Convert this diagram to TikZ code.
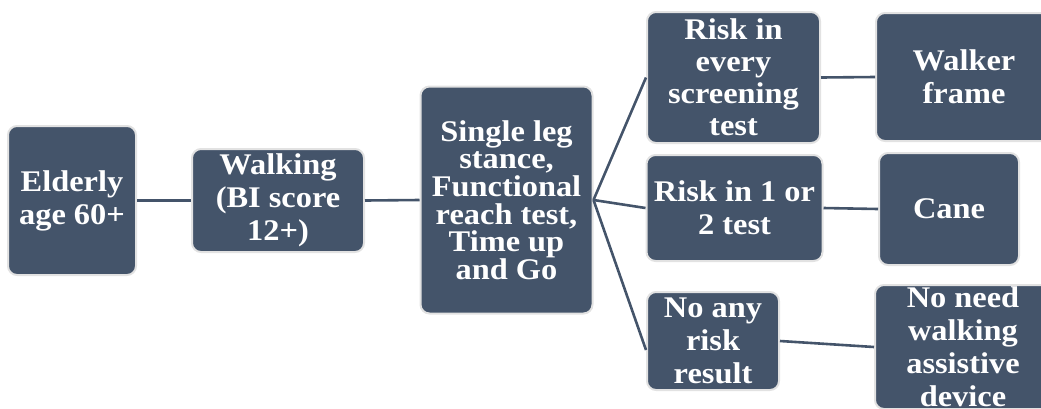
\documentclass[tikz,border=0pt]{standalone}
\usepackage{fontspec}
\setmainfont{Liberation Serif}[FakeStretch=1.08]
\usetikzlibrary{calc}
\definecolor{slate}{HTML}{44546A}
\definecolor{rim}{HTML}{E2E2E2}
\tikzset{
  box/.style={draw=rim, line width=2pt, fill=slate, rounded corners=9pt,
    text=white, align=center, inner sep=0pt,
    font=\bfseries\fontsize{30}{33}\selectfont},
  link/.style={draw=slate, line width=2.6pt}
}
\begin{document}
\begin{tikzpicture}
\useasboundingbox (0,0) rectangle (1041pt,-408pt);
\clip (0,0) rectangle (1041pt,-408pt);

% screening pathway
\node[box, minimum width=128pt, minimum height=149pt] (elderly) at (72pt,-200.5pt)
  {Elderly\\age 60+};
\node[box, minimum width=172pt, minimum height=103pt] (walking) at (278pt,-200.5pt)
  {Walking\\(BI score\\12+)};
\node[box, minimum width=172pt, minimum height=227pt,
      font=\bfseries\fontsize{30}{27.7}\selectfont] (tests) at (506.5pt,-200pt)
  {Single leg\\stance,\\Functional\\reach test,\\Time up\\and Go};

% screening outcomes
\node[box, minimum width=173pt, minimum height=131pt,
      font=\bfseries\fontsize{30}{32}\selectfont] (riskall) at (733.5pt,-77.5pt)
  {Risk in\\every\\screening\\test};
\node[box, minimum width=176pt, minimum height=106pt] (risksome) at (734.5pt,-208pt)
  {Risk in 1 or\\2 test};
\node[box, minimum width=132pt, minimum height=98pt] (norisk) at (713pt,-341pt)
  {No any\\risk\\result};

% recommended devices
\node[box, minimum width=176pt, minimum height=128pt] (walker) at (964pt,-77pt)
  {Walker\\frame};
\node[box, minimum width=140pt, minimum height=112pt] (cane) at (949pt,-209pt)
  {Cane};
\node[box, minimum width=176pt, minimum height=124pt] (noneed) at (963pt,-347pt)
  {No need\\walking\\assistive\\device};

% connectors
\draw[link] (elderly.east) -- (walking.west);
\draw[link] (walking.east) -- (tests.west);
\draw[link] (tests.east) -- (riskall.west);
\draw[link] (tests.east) -- (risksome.west);
\draw[link] (tests.east) -- ([yshift=-9pt]norisk.west);
\draw[link] (riskall.east) -- (walker.west);
\draw[link] (risksome.east) -- (cane.west);
\draw[link] (norisk.east) -- (noneed.west);
\end{tikzpicture}
\end{document}
